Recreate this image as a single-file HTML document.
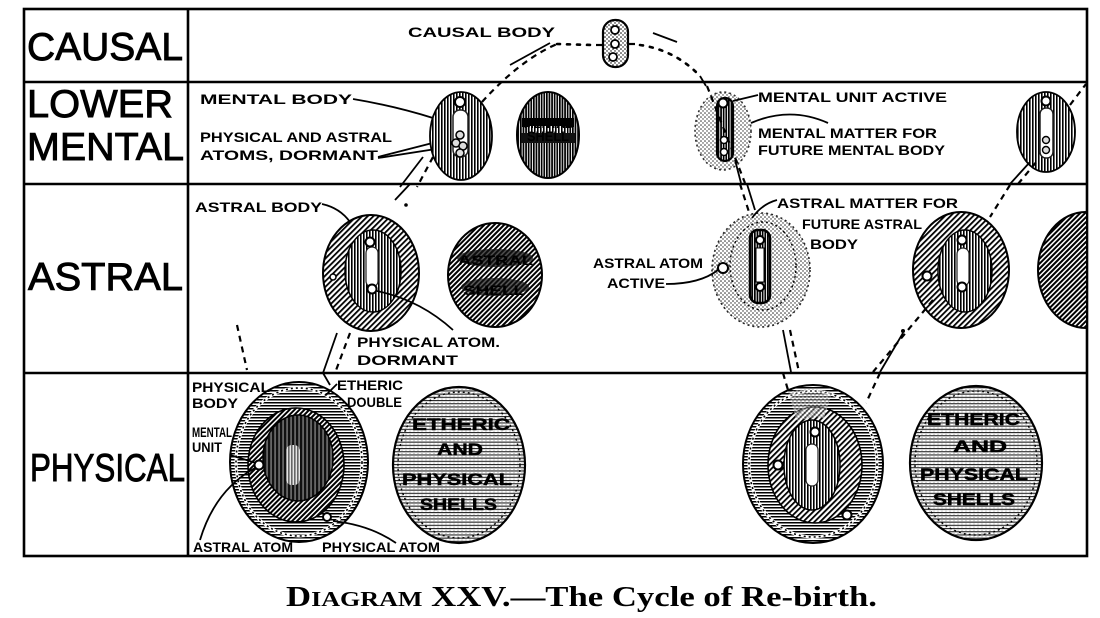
<!DOCTYPE html>
<html><head><meta charset="utf-8"><style>
html,body{margin:0;padding:0;background:#fff;}
svg{display:block;}
.big{font-family:"Liberation Sans",sans-serif;font-size:39px;fill:#000;stroke:#000;stroke-width:0.9;}
.lb{font-family:"Liberation Sans",sans-serif;font-weight:bold;font-size:14px;fill:#000;}
.sh{font-family:"Liberation Sans",sans-serif;font-weight:bold;font-size:17px;fill:#000;stroke:#000;stroke-width:0.5;}
.cap{font-family:"Liberation Serif",serif;font-weight:bold;fill:#000;}
.ln{fill:none;stroke:#000;stroke-width:1.8;}
.dl{fill:none;stroke:#000;stroke-width:2.2;stroke-dasharray:6 5;}
.dt{fill:none;stroke:#000;stroke-width:2.6;stroke-dasharray:3 7;stroke-linecap:round;}
</style></head><body>
<svg width="1100" height="618" viewBox="0 0 1100 618" xmlns="http://www.w3.org/2000/svg">
<defs>
<pattern id="vh" width="3" height="3" patternUnits="userSpaceOnUse"><rect width="3" height="3" fill="#fff"/><rect width="1.6" height="3" fill="#000"/></pattern>
<pattern id="vhd" width="2.6" height="3" patternUnits="userSpaceOnUse"><rect width="2.6" height="3" fill="#fff"/><rect width="1.7" height="3" fill="#000"/></pattern>
<pattern id="dh" width="4" height="4" patternUnits="userSpaceOnUse" patternTransform="rotate(45)"><rect width="4" height="4" fill="#fff"/><rect width="1.8" height="4" fill="#000"/></pattern>
<pattern id="dhd" width="3.5" height="4" patternUnits="userSpaceOnUse" patternTransform="rotate(45)"><rect width="3.5" height="4" fill="#fff"/><rect width="2" height="4" fill="#000"/></pattern>
<pattern id="hh" width="3" height="3" patternUnits="userSpaceOnUse"><rect width="3" height="3" fill="#fff"/><rect width="3" height="1.5" fill="#000"/></pattern>
<pattern id="hhl" width="4" height="3.2" patternUnits="userSpaceOnUse"><rect width="4" height="3.2" fill="#fff"/><rect width="4" height="1.1" fill="#222"/><circle cx="2" cy="2.3" r="0.4" fill="#444"/></pattern>
<pattern id="st" width="4" height="4" patternUnits="userSpaceOnUse"><rect width="4" height="4" fill="#fff"/><circle cx="1" cy="1" r="0.8" fill="#000"/><circle cx="3" cy="3" r="0.7" fill="#000"/></pattern>
<pattern id="wv" width="4" height="3" patternUnits="userSpaceOnUse"><rect width="4" height="3" fill="#111"/><rect x="2.6" width="0.9" height="3" fill="#bbb"/></pattern>
<clipPath id="clipR"><rect x="0" y="0" width="1086" height="618"/></clipPath>
</defs>
<rect width="1100" height="618" fill="#fff"/>

<!-- table -->
<rect x="24" y="9" width="1063" height="547" fill="none" stroke="#000" stroke-width="2.6"/>
<line x1="188" y1="9" x2="188" y2="556" stroke="#000" stroke-width="2.6"/>
<line x1="24" y1="82" x2="1087" y2="82" stroke="#000" stroke-width="2.4"/>
<line x1="24" y1="184" x2="1087" y2="184" stroke="#000" stroke-width="2.4"/>
<line x1="24" y1="373" x2="1087" y2="373" stroke="#000" stroke-width="2.4"/>

<!-- row labels -->
<text class="big" x="27" y="60" textLength="156" lengthAdjust="spacingAndGlyphs">CAUSAL</text>
<text class="big" x="27" y="117" textLength="146" lengthAdjust="spacingAndGlyphs">LOWER</text>
<text class="big" x="27" y="160" textLength="157" lengthAdjust="spacingAndGlyphs">MENTAL</text>
<text class="big" x="28" y="290" textLength="155" lengthAdjust="spacingAndGlyphs">ASTRAL</text>
<text class="big" x="30" y="481" font-size="42" textLength="155" lengthAdjust="spacingAndGlyphs">PHYSICAL</text>

<!-- ============ CAUSAL ============ -->
<text class="lb" x="408" y="37" font-size="15" textLength="147" lengthAdjust="spacingAndGlyphs">CAUSAL BODY</text>
<rect x="603" y="20" width="25" height="47" rx="12" fill="url(#st)" stroke="#000" stroke-width="2.2"/>
<circle cx="615" cy="30" r="4" fill="#fff" stroke="#000" stroke-width="1.8"/>
<circle cx="615" cy="44" r="4" fill="#fff" stroke="#000" stroke-width="1.8"/>
<circle cx="613" cy="57" r="4" fill="#fff" stroke="#000" stroke-width="1.8"/>
<line x1="596" y1="45" x2="603" y2="45" stroke="#000" stroke-width="2.2"/>
<line x1="628" y1="44" x2="635" y2="44" stroke="#000" stroke-width="2.2"/>
<!-- causal arcs -->
<line x1="510" y1="65" x2="550" y2="43" class="ln" stroke-width="2.4"/>
<path d="M482 102 Q520 60 557 44" class="dl"/>
<path d="M557 44 L592 45" class="dt"/>
<line x1="653" y1="33" x2="677" y2="42" class="ln" stroke-width="2.4"/>
<path d="M640 45 Q675 50 700 76" class="dt"/>
<path d="M700 76 L706 86" class="ln"/>

<!-- ============ LOWER MENTAL ============ -->
<text class="lb" x="200" y="104" textLength="152" lengthAdjust="spacingAndGlyphs">MENTAL BODY</text>
<text class="lb" x="200" y="142" font-size="13" textLength="192" lengthAdjust="spacingAndGlyphs">PHYSICAL AND ASTRAL</text>
<text class="lb" x="200" y="160" font-size="13" textLength="178" lengthAdjust="spacingAndGlyphs">ATOMS, DORMANT</text>
<path d="M353 99 Q395 106 433 118" class="ln"/>
<path d="M378 158 L455 146" class="ln"/>
<path d="M378 157 L456 137" class="ln"/>
<!-- mental body 1 -->
<ellipse cx="461" cy="136" rx="31" ry="44" fill="url(#vh)" stroke="#000" stroke-width="1.8"/>
<rect x="453" y="110" width="15" height="47" rx="7" fill="#fff" stroke="#222" stroke-width="1.5"/>
<circle cx="460" cy="102" r="5" fill="#fff" stroke="#000" stroke-width="2"/>
<circle cx="460" cy="135" r="4" fill="#ddd" stroke="#000" stroke-width="1.5"/>
<circle cx="456" cy="143" r="4" fill="#ddd" stroke="#000" stroke-width="1.5"/>
<circle cx="463" cy="146" r="4" fill="#ddd" stroke="#000" stroke-width="1.5"/>
<circle cx="460" cy="153" r="4" fill="#ddd" stroke="#000" stroke-width="1.5"/>
<!-- mental shell -->
<ellipse cx="548" cy="135" rx="31" ry="43" fill="url(#vhd)" stroke="#000" stroke-width="2"/>
<rect x="522" y="118" width="52" height="9" fill="#000"/>
<rect x="521" y="133" width="54" height="10" fill="#111"/>
<rect x="528" y="126" width="40" height="7" fill="url(#vh)"/>
<text class="lb" x="524" y="128" font-size="9" fill="#333" textLength="48" lengthAdjust="spacingAndGlyphs">MENTAL</text>
<text class="lb" x="527" y="141" font-size="9" fill="#333" textLength="42" lengthAdjust="spacingAndGlyphs">SHELL</text>
<!-- mental unit active -->
<ellipse cx="723" cy="131" rx="28" ry="39" fill="url(#st)" stroke="#000" stroke-width="1.6" stroke-dasharray="2 3" opacity="0.8"/>
<rect x="717" y="98" width="16" height="63" rx="8" fill="url(#vhd)" stroke="#000" stroke-width="2.2"/>
<circle cx="723" cy="103" r="4.5" fill="#fff" stroke="#000" stroke-width="2"/>
<circle cx="724" cy="140" r="3.5" fill="#fff" stroke="#000" stroke-width="1.5"/>
<circle cx="724" cy="152" r="3.5" fill="#fff" stroke="#000" stroke-width="1.5"/>
<text class="lb" x="758" y="102" textLength="189" lengthAdjust="spacingAndGlyphs">MENTAL UNIT ACTIVE</text>
<path d="M758 95 L733 101" class="ln"/>
<text class="lb" x="758" y="138" textLength="179" lengthAdjust="spacingAndGlyphs">MENTAL MATTER FOR</text>
<text class="lb" x="758" y="155" textLength="187" lengthAdjust="spacingAndGlyphs">FUTURE MENTAL BODY</text>
<path d="M828 123 Q790 106 751 123" class="ln"/>
<!-- right mental body -->
<ellipse cx="1046" cy="132" rx="29" ry="40" fill="url(#vh)" stroke="#000" stroke-width="1.8"/>
<rect x="1040" y="108" width="13" height="50" rx="6" fill="#fff" stroke="#222" stroke-width="1.5"/>
<circle cx="1046" cy="101" r="4.5" fill="#fff" stroke="#000" stroke-width="2"/>
<circle cx="1046" cy="140" r="3.5" fill="#ddd" stroke="#000" stroke-width="1.4"/>
<circle cx="1046" cy="150" r="3.5" fill="#ddd" stroke="#000" stroke-width="1.4"/>
<path d="M1070 105 L1086 84" class="dl"/>
<!-- connectors lower mental -->
<path d="M707 86 L745 183" class="dl"/>
<path d="M735 160 L741 183" class="ln"/>
<path d="M423 157 L400 187" class="ln"/>
<path d="M433 157 L417 187" class="dl"/>
<path d="M1010 184 L1030 162" class="ln"/>
<path d="M1018 184 L1038 160" class="dl"/>

<!-- ============ ASTRAL ============ -->
<text class="lb" x="195" y="212" textLength="127" lengthAdjust="spacingAndGlyphs">ASTRAL BODY</text>
<path d="M322 204 Q340 208 350 222" class="ln"/>
<ellipse cx="371" cy="273" rx="48" ry="58" fill="url(#dh)" stroke="#000" stroke-width="2"/>
<ellipse cx="373" cy="271" rx="28" ry="41" fill="url(#vh)" stroke="#000" stroke-width="1.5"/>
<rect x="366" y="247" width="12" height="40" rx="6" fill="#fff" stroke="#222" stroke-width="1.2"/>
<circle cx="370" cy="242" r="4.5" fill="#fff" stroke="#000" stroke-width="2"/>
<circle cx="372" cy="289" r="4.5" fill="#fff" stroke="#000" stroke-width="2"/>
<circle cx="333" cy="277" r="3" fill="#fff" stroke="#000" stroke-width="1.5"/>
<text class="lb" x="357" y="347" font-size="15" textLength="143" lengthAdjust="spacingAndGlyphs">PHYSICAL ATOM.</text>
<text class="lb" x="357" y="365" font-size="15" textLength="101" lengthAdjust="spacingAndGlyphs">DORMANT</text>
<path d="M453 330 Q420 300 377 291" class="ln"/>
<!-- astral shell -->
<ellipse cx="495" cy="275" rx="47" ry="52" fill="url(#dhd)" stroke="#000" stroke-width="2"/>
<ellipse cx="495" cy="258" rx="38" ry="9" fill="#111" opacity="0.75"/>
<ellipse cx="495" cy="287" rx="34" ry="9" fill="#111" opacity="0.7"/>
<text class="lb" x="458" y="265" font-size="15" fill="#000" textLength="75" lengthAdjust="spacingAndGlyphs">ASTRAL</text>
<text class="lb" x="463" y="295" font-size="15" fill="#000" textLength="62" lengthAdjust="spacingAndGlyphs">SHELL</text>
<!-- astral matter (active) -->
<ellipse cx="761" cy="270" rx="49" ry="57" fill="url(#st)" stroke="#000" stroke-width="1.6" stroke-dasharray="2 3" opacity="0.85"/>
<ellipse cx="763" cy="266" rx="33" ry="44" fill="none" stroke="#000" stroke-width="1.4" stroke-dasharray="2 3"/>
<rect x="750" y="230" width="20" height="73" rx="8" fill="url(#vhd)" stroke="#000" stroke-width="2.5"/>
<rect x="756" y="248" width="8" height="34" fill="#fff" stroke="#000" stroke-width="1"/>
<circle cx="760" cy="240" r="4" fill="#fff" stroke="#000" stroke-width="2"/>
<circle cx="760" cy="287" r="4" fill="#fff" stroke="#000" stroke-width="2"/>
<circle cx="723" cy="268" r="5" fill="#fff" stroke="#000" stroke-width="2"/>
<text class="lb" x="777" y="208" textLength="181" lengthAdjust="spacingAndGlyphs">ASTRAL MATTER FOR</text>
<text class="lb" x="802" y="229" textLength="120" lengthAdjust="spacingAndGlyphs">FUTURE ASTRAL</text>
<text class="lb" x="810" y="249" textLength="48" lengthAdjust="spacingAndGlyphs">BODY</text>
<path d="M777 200 Q762 204 752 218" class="ln"/>
<text class="lb" x="593" y="268" textLength="110" lengthAdjust="spacingAndGlyphs">ASTRAL ATOM</text>
<text class="lb" x="607" y="288" textLength="58" lengthAdjust="spacingAndGlyphs">ACTIVE</text>
<path d="M666 284 Q700 284 718 270" class="ln"/>
<!-- astral body right -->
<ellipse cx="961" cy="270" rx="48" ry="58" fill="url(#dh)" stroke="#000" stroke-width="2"/>
<ellipse cx="965" cy="271" rx="27" ry="41" fill="url(#vh)" stroke="#000" stroke-width="1.5"/>
<rect x="957" y="248" width="12" height="38" rx="6" fill="#fff" stroke="#222" stroke-width="1.2"/>
<circle cx="962" cy="240" r="4.5" fill="#fff" stroke="#000" stroke-width="2"/>
<circle cx="962" cy="287" r="4.5" fill="#fff" stroke="#000" stroke-width="2"/>
<circle cx="927" cy="276" r="4.5" fill="#fff" stroke="#000" stroke-width="2"/>
<!-- partial shell -->
<g clip-path="url(#clipR)">
<ellipse cx="1086" cy="270" rx="48" ry="58" fill="url(#dhd)" stroke="#000" stroke-width="2"/>
</g>
<!-- astral connectors -->
<path d="M237 325 L247 370" class="dl"/>
<path d="M410 184 L395 200" class="ln"/>
<circle cx="406" cy="205" r="1.8" fill="#000"/>
<path d="M337 333 L323 373" class="ln"/>
<path d="M350 333 L335 373" class="dl"/>
<path d="M740 184 L749 212" class="dl"/>
<path d="M747 184 L755 210" class="ln"/>
<path d="M783 330 L791 372" class="ln"/>
<path d="M790 330 L799 372" class="dl"/>
<path d="M933 300 L873 372" class="dl"/>
<path d="M903 333 L880 372" class="ln"/>
<circle cx="903" cy="331" r="2" fill="#000"/>
<path d="M1010 185 L990 217" class="dl"/>

<!-- ============ PHYSICAL ============ -->
<!-- left physical body -->
<ellipse cx="299" cy="462" rx="69" ry="80" fill="url(#hh)" stroke="#000" stroke-width="2"/>
<ellipse cx="299" cy="462" rx="63" ry="74" fill="none" stroke="#fff" stroke-width="3"/>
<ellipse cx="299" cy="462" rx="63" ry="74" fill="none" stroke="#000" stroke-width="1.6" stroke-dasharray="2 3"/>
<ellipse cx="296" cy="465" rx="48" ry="57" fill="url(#dhd)" stroke="#000" stroke-width="1.6"/>
<ellipse cx="298" cy="458" rx="35" ry="43" fill="url(#wv)" stroke="#000" stroke-width="1.5"/>
<rect x="286" y="445" width="14" height="40" rx="6" fill="#ccc"/>
<rect x="286" y="445" width="14" height="40" rx="6" fill="url(#vh)" opacity="0.5"/>
<circle cx="259" cy="465" r="4.5" fill="#fff" stroke="#000" stroke-width="2"/>
<circle cx="327" cy="517" r="4" fill="#fff" stroke="#000" stroke-width="2"/>
<text class="lb" x="192" y="392" font-size="13" textLength="78" lengthAdjust="spacingAndGlyphs">PHYSICAL</text>
<text class="lb" x="192" y="408" font-size="15" textLength="46" lengthAdjust="spacingAndGlyphs">BODY</text>
<text class="lb" x="192" y="437" font-size="10" textLength="40" lengthAdjust="spacingAndGlyphs">MENTAL</text>
<text class="lb" x="192" y="452" font-size="13" textLength="30" lengthAdjust="spacingAndGlyphs">UNIT</text>
<text class="lb" x="337" y="390" font-size="14" textLength="66" lengthAdjust="spacingAndGlyphs">ETHERIC</text>
<text class="lb" x="347" y="407" font-size="13" textLength="55" lengthAdjust="spacingAndGlyphs">DOUBLE</text>
<text class="lb" x="193" y="552" font-size="13" textLength="100" lengthAdjust="spacingAndGlyphs">ASTRAL ATOM</text>
<text class="lb" x="322" y="552" font-size="13" textLength="118" lengthAdjust="spacingAndGlyphs">PHYSICAL ATOM</text>
<path d="M200 540 Q215 490 255 468" class="ln"/>
<path d="M230 455 L256 463" class="ln"/>
<path d="M396 543 Q370 525 333 521" class="ln"/>
<path d="M337 384 L326 395" class="ln"/>
<path d="M323 373 L330 385" class="ln"/>
<!-- left shells -->
<ellipse cx="459" cy="465" rx="66" ry="78" fill="url(#hhl)" stroke="#000" stroke-width="2.2"/>
<ellipse cx="459" cy="465" rx="61" ry="73" fill="none" stroke="#000" stroke-width="1.4" stroke-dasharray="2 3"/>
<text class="sh" x="412" y="430" textLength="98" lengthAdjust="spacingAndGlyphs">ETHERIC</text>
<text class="sh" x="437" y="455" textLength="46" lengthAdjust="spacingAndGlyphs">AND</text>
<text class="sh" x="402" y="485" textLength="110" lengthAdjust="spacingAndGlyphs">PHYSICAL</text>
<text class="sh" x="420" y="510" textLength="77" lengthAdjust="spacingAndGlyphs">SHELLS</text>
<!-- right physical body -->
<ellipse cx="813" cy="464" rx="70" ry="79" fill="url(#hh)" stroke="#000" stroke-width="2"/>
<ellipse cx="813" cy="464" rx="64" ry="73" fill="none" stroke="#fff" stroke-width="3"/>
<ellipse cx="813" cy="464" rx="64" ry="73" fill="none" stroke="#000" stroke-width="1.6" stroke-dasharray="2 3"/>
<ellipse cx="815" cy="465" rx="47" ry="58" fill="url(#dh)" stroke="#000" stroke-width="1.6"/>
<path d="M788 392 Q810 386 832 392 L824 418 Q808 416 797 422 Z" fill="url(#st)" opacity="0.45"/>
<ellipse cx="812" cy="465" rx="28" ry="45" fill="url(#vh)" stroke="#000" stroke-width="1.5"/>
<rect x="806" y="444" width="12" height="42" rx="6" fill="#fff" stroke="#222" stroke-width="1.2"/>
<circle cx="815" cy="432" r="4.5" fill="#fff" stroke="#000" stroke-width="2"/>
<circle cx="778" cy="465" r="4.5" fill="#fff" stroke="#000" stroke-width="2"/>
<circle cx="847" cy="515" r="4.5" fill="#fff" stroke="#000" stroke-width="2"/>
<path d="M783 373 L788 390" class="dl"/>
<path d="M880 373 L866 403" class="dl"/>
<!-- right shells -->
<ellipse cx="976" cy="463" rx="66" ry="77" fill="url(#hhl)" stroke="#000" stroke-width="2.2"/>
<ellipse cx="976" cy="463" rx="61" ry="72" fill="none" stroke="#000" stroke-width="1.4" stroke-dasharray="2 3"/>
<text class="sh" x="927" y="425" textLength="93" lengthAdjust="spacingAndGlyphs">ETHERIC</text>
<text class="sh" x="953" y="452" textLength="54" lengthAdjust="spacingAndGlyphs">AND</text>
<text class="sh" x="920" y="480" textLength="108" lengthAdjust="spacingAndGlyphs">PHYSICAL</text>
<text class="sh" x="933" y="505" textLength="82" lengthAdjust="spacingAndGlyphs">SHELLS</text>

<!-- caption -->
<text class="cap" x="286" y="606" font-size="28" textLength="591" lengthAdjust="spacingAndGlyphs">D<tspan font-size="21">IAGRAM</tspan> XXV.—The Cycle of Re-birth.</text>
</svg>
</body></html>
